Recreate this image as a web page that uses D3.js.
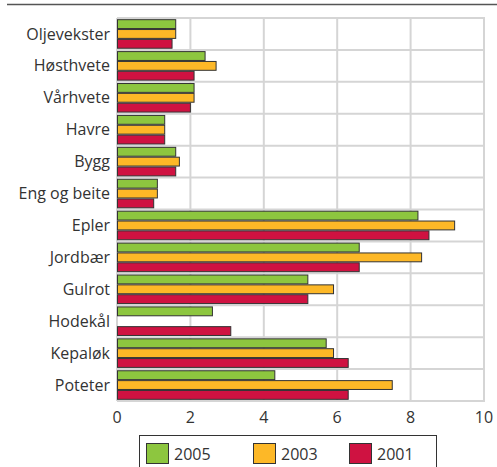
<!DOCTYPE html>
<html><head><meta charset="utf-8">
<script src="https://cdn.jsdelivr.net/npm/d3@7"></script>
<style>body{margin:0;background:#fff}svg{display:block}</style>
</head><body>
<svg id="c" width="497" height="467"></svg>
<script>
const categories = ["Oljevekster","Høsthvete","Vårhvete","Havre","Bygg","Eng og beite","Epler","Jordbær","Gulrot","Hodekål","Kepaløk","Poteter"];
const seriesNames = ["2005","2003","2001"];
const v2005 = [1.6,2.4,2.1,1.3,1.6,1.1,8.2,6.6,5.2,2.6,5.7,4.3];
const v2003 = [1.6,2.7,2.1,1.3,1.7,1.1,9.2,8.3,5.9,null,5.9,7.5];
const v2001 = [1.5,2.1,2.0,1.3,1.6,1.0,8.5,6.6,5.2,3.1,6.3,6.3];
const xTicks = [0,2,4,6,8,10];
const colors = ["#8dc63f","#fdb827","#cf1241"];
const seriesVals = [v2005,v2003,v2001];

const svg = d3.select("#c");
const font = "'Open Sans', sans-serif";
const L=117, R=484, T=18, B=401;
const x = d3.scaleLinear().domain([0,10]).range([L,R]);
const y = d3.scaleBand().domain(categories).range([T,B]);
const inner = d3.scaleBand().domain(seriesNames).range([0,y.bandwidth()]).paddingOuter(0.12);

svg.append("line").attr("x1",7).attr("x2",497).attr("y1",4.5).attr("y2",4.5).attr("stroke","#555").attr("stroke-width",1.6);

const g = svg.append("g");
g.selectAll("line.v").data(xTicks).join("line")
 .attr("x1",d=>x(d)).attr("x2",d=>x(d)).attr("y1",T).attr("y2",B)
 .attr("stroke","#d5d5d5").attr("stroke-width",2);
g.selectAll("line.h").data(d3.range(categories.length+1)).join("line")
 .attr("x1",L).attr("x2",R+1).attr("y1",i=>T+i*y.step()).attr("y2",i=>T+i*y.step())
 .attr("stroke","#d5d5d5").attr("stroke-width",2);

seriesVals.forEach((vals,si)=>{
  svg.append("g").selectAll("rect").data(categories.map((c,i)=>({c,v:vals[i]})).filter(d=>d.v!=null)).join("rect")
   .attr("x",x(0)+0.5).attr("y",d=>y(d.c)+inner(seriesNames[si])+0.5)
   .attr("width",d=>x(d.v)-x(0)-0.5).attr("height",inner.bandwidth()-1)
   .attr("fill",colors[si]).attr("stroke","#333").attr("stroke-width",1);
});

svg.append("g").selectAll("text").data(categories).join("text")
 .attr("x",110).attr("y",d=>y(d)+y.bandwidth()/2).attr("dy","0.35em")
 .attr("text-anchor","end").attr("font-family",font).attr("font-size",16).attr("fill","#333").text(d=>d);

svg.append("g").selectAll("text").data(xTicks).join("text")
 .attr("x",d=>x(d)).attr("y",423).attr("text-anchor","middle")
 .attr("font-family",font).attr("font-size",16).attr("fill","#333").text(d=>d);

svg.append("rect").attr("x",139.5).attr("y",435.5).attr("width",297).attr("height",40)
 .attr("fill","none").attr("stroke","#333").attr("stroke-width",1);
const legX = [146,253,349];
seriesNames.forEach((s,i)=>{
  svg.append("rect").attr("x",legX[i]+0.5).attr("y",443.5).attr("width",22).attr("height",20)
   .attr("fill",colors[i]).attr("stroke","#333");
  svg.append("text").attr("x",legX[i]+28).attr("y",459.5).attr("font-family",font).attr("font-size",16).attr("fill","#333").text(s);
});
</script>
</body></html>
